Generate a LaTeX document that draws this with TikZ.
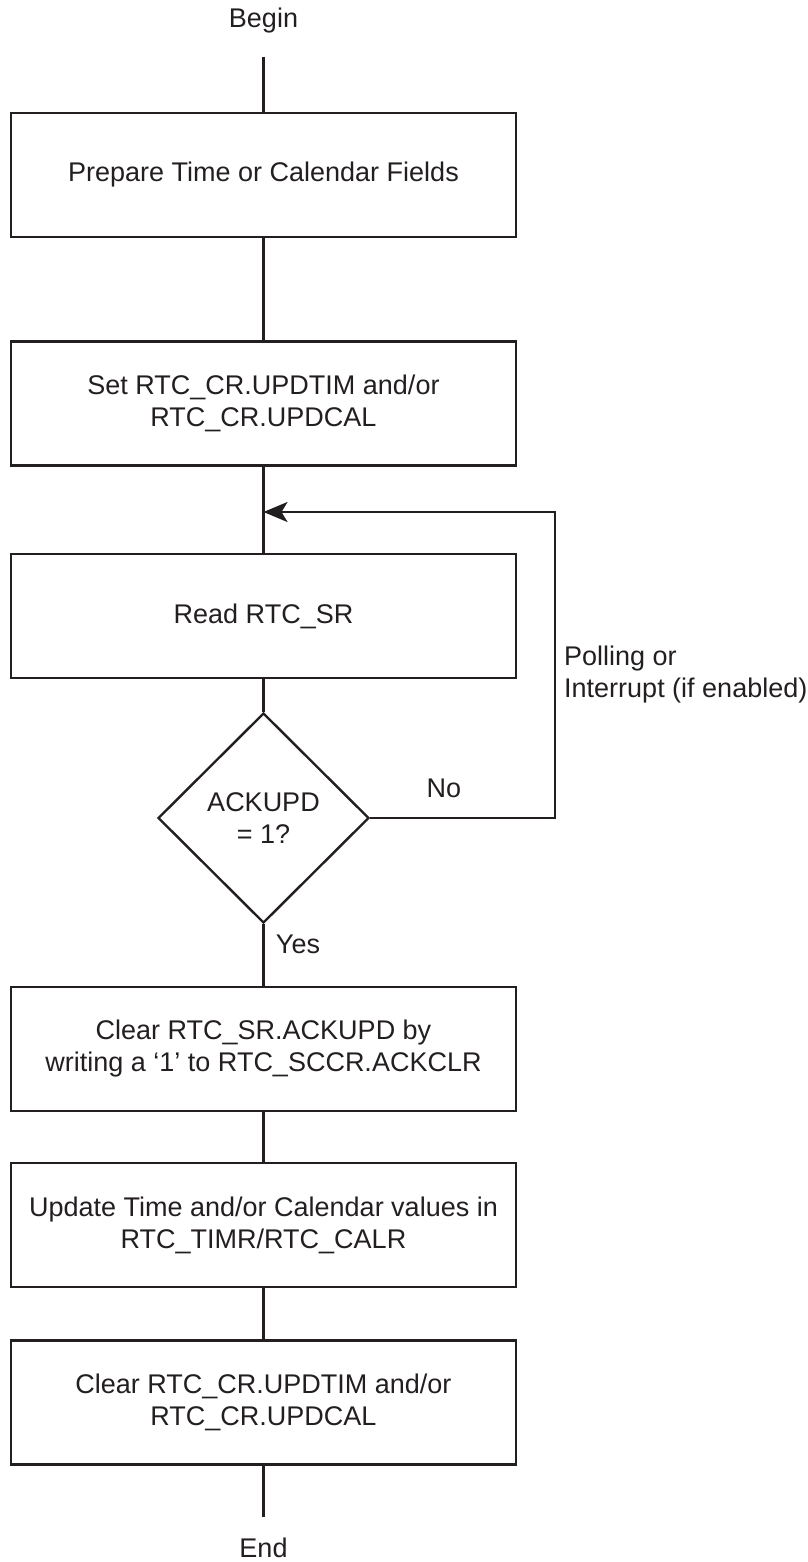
\documentclass[tikz,border=0pt]{standalone}
\usepackage{fontspec}
\setmainfont{Liberation Sans}
\usetikzlibrary{shapes.geometric,arrows.meta}
\definecolor{ink}{RGB}{35,31,32}
\begin{document}
\begin{tikzpicture}[x=1pt,y=-1pt,
  every node/.style={text=ink,font=\fontsize{27}{32}\selectfont},
  stepbox/.style={draw=ink,line width=2.8pt,minimum width=505pt,minimum height=124pt,align=center,inner sep=0pt},
  decide/.style={draw=ink,line width=2.4pt,diamond,minimum width=211pt,minimum height=210pt,inner sep=0pt,align=center},
  flow/.style={draw=ink,line width=2.4pt},
  lbl/.style={inner sep=0pt}]
\useasboundingbox (0,0) rectangle (807,1562);
\node[lbl] (begin) at (263.5,21) {Begin};
\coordinate (bline) at (263.5,57);
\node[stepbox] (b1) at (263.5,175) {Prepare Time or Calendar Fields};
\node[stepbox] (b2) at (263.5,403.5) {Set RTC\_CR.UPDTIM and/or\\RTC\_CR.UPDCAL};
\node[stepbox] (b3) at (263.5,616) {Read RTC\_SR};
\node[decide] (d) at (263.5,818) {ACKUPD\\= 1?};
\node[stepbox] (b4) at (263.5,1049) {Clear RTC\_SR.ACKUPD by\\writing a ‘1’ to RTC\_SCCR.ACKCLR};
\node[stepbox] (b5) at (263.5,1225) {Update Time and/or Calendar values in\\RTC\_TIMR/RTC\_CALR};
\node[stepbox] (b6) at (263.5,1402.5) {Clear RTC\_CR.UPDTIM and/or\\RTC\_CR.UPDCAL};
\coordinate (eline) at (263.5,1517);
\node[lbl] (end) at (263.5,1548) {End};
\coordinate (loopc) at (555,512);
\coordinate (join) at (263.5,512);
\node[lbl] (no) at (444,788) {No};
\node[lbl] (yes) at (298,944) {Yes};
\node[lbl,anchor=west,align=left] (poll) at (564,675) {Polling or\\Interrupt (if enabled)};
\draw[flow] (bline) -- (b1.north);
\draw[flow] (b1.south) -- (b2.north);
\draw[flow] (b2.south) -- (b3.north);
\draw[flow] (b3.south) -- (d.north);
\draw[flow] (d.south) -- (b4.north);
\draw[flow] (b4.south) -- (b5.north);
\draw[flow] (b5.south) -- (b6.north);
\draw[flow] (b6.south) -- (eline);
\draw[flow,-{Stealth[length=24pt,width=20pt,inset=6pt]}] (d.east) -| (loopc) -- (join);
\end{tikzpicture}
\end{document}
